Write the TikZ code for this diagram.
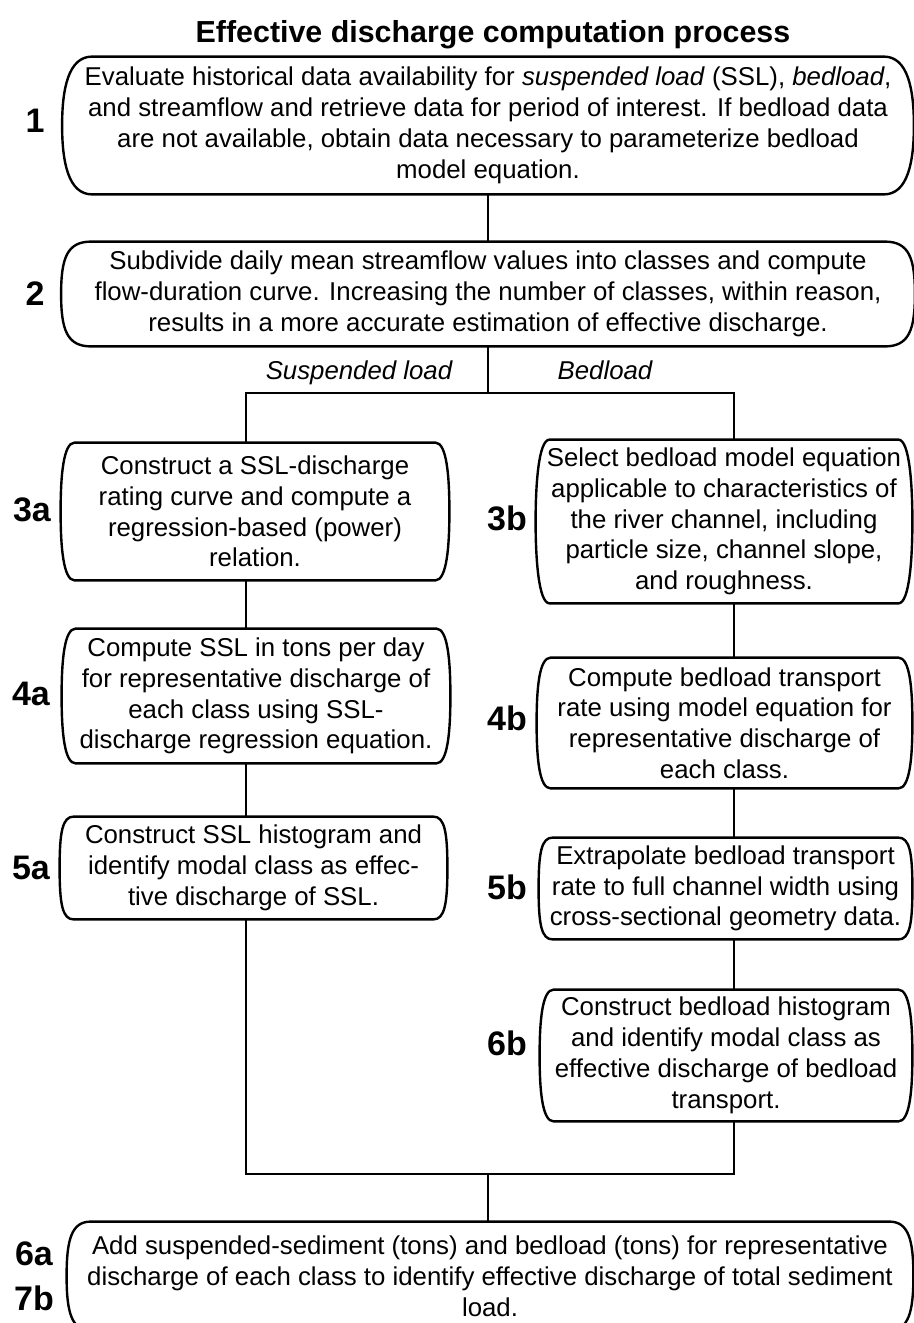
\documentclass[tikz,border=0pt]{standalone}
\usepackage{fontspec}
\setmainfont{Liberation Sans}

\tikzset{
  stepbox/.style={align=center, inner sep=0pt, font=\fontsize{12.9}{15.4}\selectfont},
  steplabel/.style={font=\fontsize{17}{20}\selectfont\bfseries},
  branchlabel/.style={anchor=base, font=\fontsize{12.9}{15.4}\selectfont\itshape},
  boxline/.style={line width=1.2pt, line join=round},
  link/.style={line width=1pt},
}

\begin{document}
\begin{tikzpicture}[x=0.5pt,y=-0.5pt]
  \useasboundingbox (0,0) rectangle (914,1323);
  \node[font=\fontsize{15.2}{18}\selectfont\bfseries] (title) at (493,35) {Effective discharge computation process};

  % steps
  \node[stepbox, minimum width=425.5pt, minimum height=68.5pt] (s1) at (488,125.5)
    {Evaluate historical data availability for \textit{suspended load} (SSL), \textit{bedload},\\
     and streamflow and retrieve data for period of interest. If bedload data\\
     are not available, obtain data necessary to parameterize bedload\\
     model equation.};
  \node[stepbox, minimum width=426.5pt, minimum height=52pt] (s2) at (488,294)
    {Subdivide daily mean streamflow values into classes and compute\\
     flow-duration curve. Increasing the number of classes, within reason,\\
     results in a more accurate estimation of effective discharge.};
  \node[stepbox, minimum width=194pt, minimum height=68.5pt] (s3a) at (255,511.5)
    {Construct a SSL-discharge\\ rating curve and compute a\\ regression-based (power)\\ relation.};
  \node[stepbox, minimum width=194pt, minimum height=67pt] (s4a) at (256,696)
    {Compute SSL in tons per day\\ for representative discharge of\\ each class using SSL-\\ discharge regression equation.};
  \node[stepbox, minimum width=193.5pt, minimum height=51pt] (s5a) at (253.5,868)
    {Construct SSL histogram and\\ identify modal class as effec-\\ tive discharge of SSL.};
  \node[stepbox, minimum width=188pt, minimum height=81.5pt] (s3b) at (724,521.5)
    {Select bedload model equation\\ applicable to characteristics of\\ the river channel, including\\ particle size, channel slope,\\ and roughness.};
  \node[stepbox, minimum width=187.5pt, minimum height=65pt] (s4b) at (724.5,723)
    {Compute bedload transport\\ rate using model equation for\\ representative discharge of\\ each class.};
  \node[stepbox, minimum width=186.5pt, minimum height=50.5pt] (s5b) at (725.5,888.5)
    {Extrapolate bedload transport\\ rate to full channel width using\\ cross-sectional geometry data.};
  \node[stepbox, minimum width=186pt, minimum height=65.5pt] (s6b) at (726,1055.5)
    {Construct bedload histogram\\ and identify modal class as\\ effective discharge of bedload\\ transport.};
  \node[stepbox, minimum width=423pt, minimum height=54pt] (s7) at (490,1276)
    {Add suspended-sediment (tons) and bedload (tons) for representative\\
     discharge of each class to identify effective discharge of total sediment\\
     load.};

  % outlines with bulging sides
  \foreach \n/\r in {s1/15pt, s2/15pt, s3a/7pt, s4a/7pt, s5a/7pt, s3b/7pt, s4b/7pt, s5b/7pt, s6b/7pt, s7/12pt}
    \draw[boxline] ([xshift=\r]\n.north west) -- ([xshift=-\r]\n.north east)
      .. controls +(0.8*\r,0pt) and +(0pt,18pt) .. (\n.east)
      .. controls +(0pt,-18pt) and +(0.8*\r,0pt) .. ([xshift=-\r]\n.south east)
      -- ([xshift=\r]\n.south west)
      .. controls +(-0.8*\r,0pt) and +(0pt,-18pt) .. (\n.west)
      .. controls +(0pt,18pt) and +(-0.8*\r,0pt) .. ([xshift=\r]\n.north west) -- cycle;

  % step numbers
  \node[steplabel] (n1) at (35,121) {1};
  \node[steplabel] (n2) at (35,294) {2};
  \node[steplabel] (n3a) at (32,510) {3a};
  \node[steplabel] (n4a) at (31,694) {4a};
  \node[steplabel] (n5a) at (31,868) {5a};
  \node[steplabel] (n3b) at (507,518) {3b};
  \node[steplabel] (n4b) at (507,718) {4b};
  \node[steplabel] (n5b) at (507,887) {5b};
  \node[steplabel] (n6b) at (507,1043) {6b};
  \node[steplabel] (n6a) at (34,1254) {6a};
  \node[steplabel] (n7b) at (34,1298) {7b};

  \node[branchlabel] (susp) at (359,379) {Suspended load};
  \node[branchlabel] (bed) at (605,379) {Bedload};

  % connectors
  \coordinate (split) at (488,393);
  \coordinate (sl) at (246,393);
  \coordinate (bl) at (734,393);
  \coordinate (join) at (488,1174);
  \coordinate (jl) at (246,1174);
  \coordinate (jr) at (734,1174);

  \draw[link] (s1.south) -- (s2.north);
  \draw[link] (s2.south) -- (split);
  \draw[link] (sl |- s3a.north) -- (sl) -- (bl) -- (bl |- s3b.north);
  \draw[link] (sl |- s3a.south) -- (sl |- s4a.north);
  \draw[link] (sl |- s4a.south) -- (sl |- s5a.north);
  \draw[link] (bl |- s3b.south) -- (bl |- s4b.north);
  \draw[link] (bl |- s4b.south) -- (bl |- s5b.north);
  \draw[link] (bl |- s5b.south) -- (bl |- s6b.north);
  \draw[link] (sl |- s5a.south) -- (jl) -- (jr) -- (bl |- s6b.south);
  \draw[link] (join) -- (join |- s7.north);
\end{tikzpicture}
\end{document}
